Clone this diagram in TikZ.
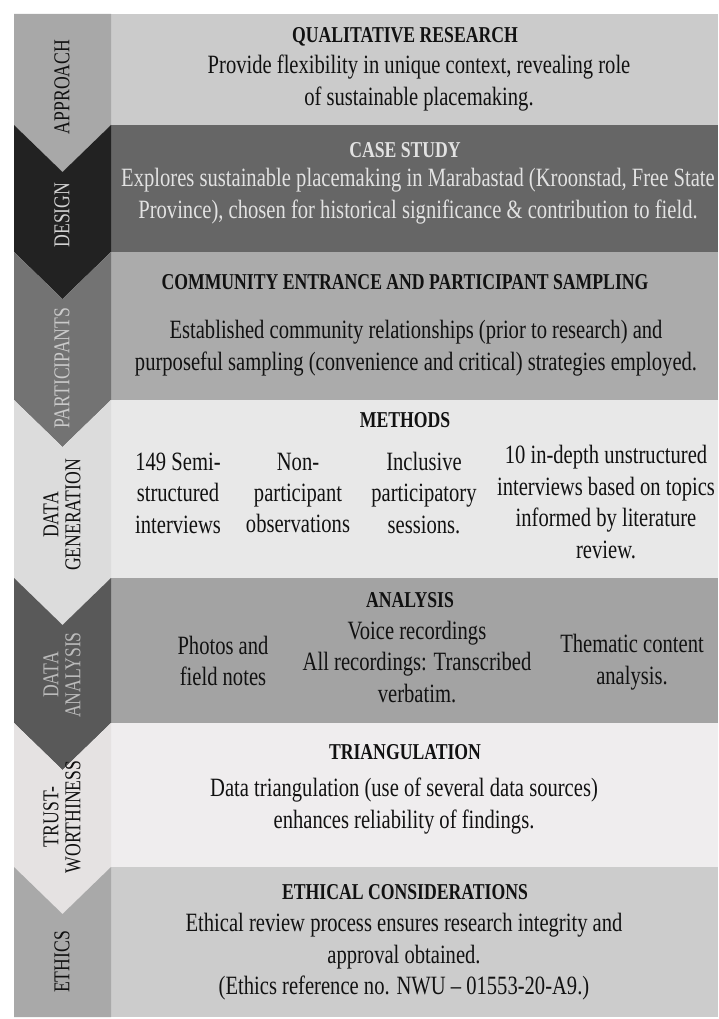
\documentclass[tikz,border=0pt]{standalone}
\usepackage{fontspec}
\setmainfont{Liberation Serif}
\newfontfamily\bodyfam[FakeStretch=0.78]{Liberation Serif}
\newfontfamily\headfam[FakeStretch=0.78]{Liberation Serif}
\newfontfamily\labfam[FakeStretch=0.78]{Liberation Serif}
\definecolor{cAl}{HTML}{A8A8A8}\definecolor{cAb}{HTML}{CBCBCB}
\definecolor{cBl}{HTML}{222222}\definecolor{cBb}{HTML}{666666}
\definecolor{cCl}{HTML}{737373}\definecolor{cCb}{HTML}{ABABAB}
\definecolor{cDl}{HTML}{DCDCDC}\definecolor{cDb}{HTML}{E8E8E8}
\definecolor{cEl}{HTML}{595959}\definecolor{cEb}{HTML}{A3A3A3}
\definecolor{cFl}{HTML}{E5E2E2}\definecolor{cFb}{HTML}{EFEDEE}
\definecolor{cGl}{HTML}{A9A9A9}\definecolor{cGb}{HTML}{CCCCCC}
\definecolor{darktext}{HTML}{111111}
\definecolor{lighttext}{HTML}{E2E2E2}
\definecolor{labB}{HTML}{D2D2D2}
\definecolor{labC}{HTML}{CACACA}
\definecolor{labE}{HTML}{BBBBBB}
\begin{document}
\begin{tikzpicture}[x=0.75pt,y=-0.75pt,
  every node/.style={inner sep=0pt,outer sep=0pt,text=darktext},
  body/.style={align=center,font={\bodyfam\fontsize{19.8}{23.6}\selectfont}},
  head/.style={align=center,font={\headfam\bfseries\fontsize{17}{19}\selectfont}},
  lab/.style={align=center,rotate=90,font={\labfam\fontsize{17}{16.5}\selectfont}}]
\useasboundingbox (0,0) rectangle (718,1019);
\fill[white] (0,0) rectangle (718,1019);
\begin{scope}
\clip (0,0) rectangle (718,1019);
% right boxes
\fill[cAb] (111,14) rectangle (718,125);
\fill[cBb] (111,125) rectangle (718,252);
\fill[cCb] (111,252) rectangle (718,400);
\fill[cDb] (111,400) rectangle (718,578);
\fill[cEb] (111,578) rectangle (718,723);
\fill[cFb] (111,723) rectangle (718,867);
\fill[cGb] (111,867) rectangle (718,1017);
% chevrons
\fill[cAl] (14,14) -- (111,14) -- (111,125) -- (62.5,172) -- (14,125) -- cycle;
\fill[cBl] (14,125) -- (62.5,172) -- (111,125) -- (111,252) -- (62.5,299) -- (14,252) -- cycle;
\fill[cCl] (14,252) -- (62.5,299) -- (111,252) -- (111,400) -- (62.5,447) -- (14,400) -- cycle;
\fill[cDl] (14,400) -- (62.5,447) -- (111,400) -- (111,578) -- (62.5,625) -- (14,578) -- cycle;
\fill[cEl] (14,578) -- (62.5,625) -- (111,578) -- (111,723) -- (62.5,770) -- (14,723) -- cycle;
\fill[cFl] (14,723) -- (62.5,770) -- (111,723) -- (111,867) -- (62.5,914) -- (14,867) -- cycle;
\fill[cGl] (14,867) -- (62.5,914) -- (111,867) -- (111,1017) -- (14,1017) -- cycle;
% labels
\node[lab] (lA) at (62,87) {APPROACH};
\node[lab,text=labB] (lB) at (62,215) {DESIGN};
\node[lab,text=labC] (lC) at (62,368) {PARTICIPANTS};
\node[lab] (lD) at (62,515) {DATA\\GENERATION};
\node[lab,text=labE] (lE) at (62,675) {DATA\\ANALYSIS};
\node[lab] (lF) at (62,817) {TRUST-\\WORTHINESS};
\node[lab] (lG) at (62,962) {ETHICS};
% approach
\node[head] (hA) at (405,37) {QUALITATIVE RESEARCH};
\node[body] (bA) at (419,83) {Provide flexibility in unique context, revealing role\\of sustainable placemaking.};
% design
\node[head,text=lighttext] (hB) at (405,150) {CASE STUDY};
\node[body,text=lighttext] (bB) at (418,196) {Explores sustainable placemaking in Marabastad (Kroonstad, Free State\\Province), chosen for historical significance \& contribution to field.};
% participants
\node[head] (hC) at (405,282) {COMMUNITY ENTRANCE AND PARTICIPANT SAMPLING};
\node[body] (bC) at (416,348) {Established community relationships (prior to research) and\\purposeful sampling (convenience and critical) strategies employed.};
% methods
\node[head] (hD) at (405,420) {METHODS};
\node[body] (bD1) at (178,493) {149 Semi-\\structured\\interviews};
\node[body] (bD2) at (298,493) {Non-\\participant\\observations};
\node[body] (bD3) at (424,493) {Inclusive\\participatory\\sessions.};
\node[body] (bD4) at (606,502) {10 in-depth unstructured\\interviews based on topics\\informed by literature\\review.};
% analysis
\node[head] (hE) at (410,600) {ANALYSIS};
\node[body] (bE1) at (223,661) {Photos and\\field notes};
\node[body] (bE2) at (417,662) {Voice recordings\\All recordings: Transcribed\\verbatim.};
\node[body] (bE3) at (632,662) {Thematic content\\analysis.};
% triangulation
\node[head] (hF) at (405,752) {TRIANGULATION};
\node[body] (bF) at (404,806) {Data triangulation (use of several data sources)\\enhances reliability of findings.};
% ethics
\node[head] (hG) at (405,892) {ETHICAL CONSIDERATIONS};
\node[body] (bG) at (404,957) {Ethical review process ensures research integrity and\\approval obtained.\\(Ethics reference no. NWU – 01553-20-A9.)};
\end{scope}
\end{tikzpicture}
\end{document}
